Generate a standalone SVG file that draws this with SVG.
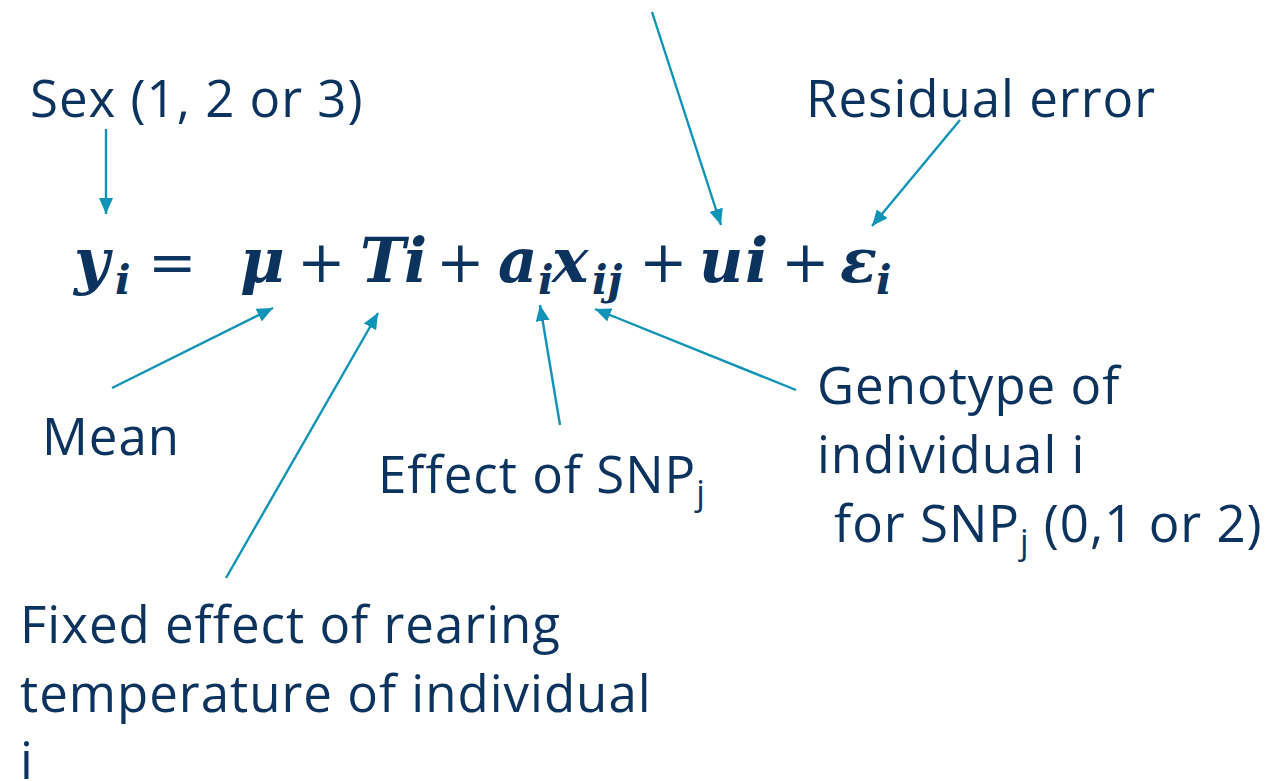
<svg xmlns="http://www.w3.org/2000/svg" width="1274" height="781" viewBox="0 0 1274 781">
<defs>
<style>
.lbl{font-family:"Open Sans","Noto Sans","Liberation Sans",sans-serif;font-size:51px;letter-spacing:1px;fill:#0B335E;}
.sub{font-size:34px;}
.eq{font-family:"DejaVu Serif","Liberation Serif",serif;font-weight:bold;font-style:italic;font-size:61px;fill:#0B335E;}
.eqs{font-size:41px;}
.op{font-style:normal;font-weight:normal;font-size:58px;}
.conn line{stroke:#0F93B6;stroke-width:2.4;fill:none;marker-end:url(#ah);}
</style>
<marker id="ah" viewBox="0 0 16 14" refX="16" refY="7" markerWidth="16" markerHeight="14" markerUnits="userSpaceOnUse" orient="auto">
<path d="M0,0 L16,7 L0,14 Z" fill="#0F93B6"/>
</marker>
</defs>
<rect width="1274" height="781" fill="#FFFFFF"/>

<g id="equation">
<text class="eq"><tspan x="74" y="282">y</tspan><tspan class="eqs" x="115" y="294">i</tspan><tspan class="op" x="148" y="282">=</tspan><tspan x="240" y="282">μ</tspan><tspan class="op" x="297" y="282">+</tspan><tspan x="360" y="282">T</tspan><tspan x="404" y="282">i</tspan><tspan class="op" x="436" y="282">+</tspan><tspan x="498" y="282">a</tspan><tspan class="eqs" x="538" y="294">i</tspan><tspan x="552" y="282">x</tspan><tspan class="eqs" x="592" y="294">ij</tspan><tspan class="op" x="639" y="282">+</tspan><tspan x="699" y="282">u</tspan><tspan x="745" y="282">i</tspan><tspan class="op" x="781" y="282">+</tspan><tspan x="840" y="282">ε</tspan><tspan class="eqs" x="876" y="294">i</tspan></text>
</g>

<g id="label-sex"><text class="lbl" x="30" y="117">Sex (1, 2 or 3)</text></g>
<g id="label-residual"><text class="lbl" x="806" y="117">Residual error</text></g>
<g id="label-mean"><text class="lbl" x="42" y="455">Mean</text></g>
<g id="label-effect"><text class="lbl" x="378" y="493">Effect of SNP<tspan class="sub" dy="12">j</tspan></text></g>
<g id="label-genotype">
<text class="lbl" x="817" y="404">Genotype of</text>
<text class="lbl" x="817" y="473">individual i</text>
<text class="lbl" x="834" y="542">for SNP<tspan class="sub" dy="12">j</tspan><tspan dy="-12"> (0,1 or 2)</tspan></text>
</g>
<g id="label-fixed">
<text class="lbl" x="20" y="643">Fixed effect of rearing</text>
<text class="lbl" x="20" y="712">temperature of individual</text>
<text class="lbl" x="20" y="779">i</text>
</g>

<g id="connectors" class="conn">
<line x1="106" y1="129" x2="106" y2="214"/>
<line x1="652" y1="12" x2="721" y2="225"/>
<line x1="960" y1="120" x2="872" y2="226"/>
<line x1="112" y1="388" x2="273" y2="308"/>
<line x1="226" y1="578" x2="378" y2="313"/>
<line x1="560" y1="425" x2="540" y2="305"/>
<line x1="796" y1="390" x2="595" y2="309"/>
</g>
</svg>
